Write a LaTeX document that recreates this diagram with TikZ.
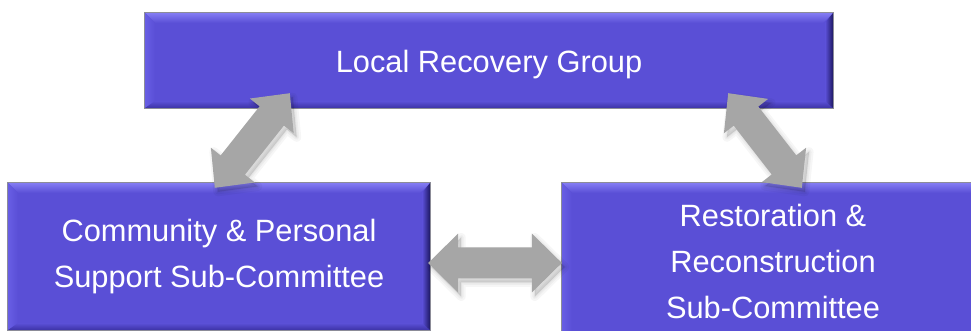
\documentclass[tikz,border=0pt]{standalone}
\usepackage{fontspec}
\setmainfont{Liberation Sans}
\usetikzlibrary{calc}

\definecolor{boxfill}{RGB}{90,79,214}
\definecolor{boxhi}{RGB}{132,124,244}
\definecolor{boxlft}{RGB}{104,94,228}
\definecolor{boxlo}{RGB}{60,50,165}
\definecolor{boxdark}{RGB}{28,22,96}
\definecolor{boxedge}{RGB}{140,140,152}
\definecolor{arrowgray}{RGB}{166,166,166}

\tikzset{
  unitbox/.style={draw=none, fill=boxfill, text=white, align=center,
    inner sep=0pt, font=\fontsize{30.8}{46}\selectfont},
  arrowbody/.style={fill=arrowgray},
  arrowhaze/.style={draw=black, draw opacity=0.035, line width=#1, line join=round},
  arrowcore/.style={fill=black, fill opacity=0.12},
}

% beveled look on the edges of a box node
\newcommand\bevel[1]{%
  \shade[top color=boxhi, bottom color=boxfill]
    (#1.north west) -- (#1.north east) -- ($(#1.north east)+(-10,-10)$)
    -- ($(#1.north west)+(10,-10)$) -- cycle;
  \shade[left color=boxlft, right color=boxfill]
    (#1.north west) -- ($(#1.north west)+(10,-10)$) -- ($(#1.south west)+(10,7)$)
    -- (#1.south west) -- cycle;
  \shade[bottom color=boxlo, top color=boxfill]
    (#1.south west) -- ($(#1.south west)+(10,7)$) -- ($(#1.south east)+(-8,7)$)
    -- (#1.south east) -- cycle;
  \shade[right color=boxdark, left color=boxfill]
    (#1.south east) -- ($(#1.south east)+(-8,7)$) -- ($(#1.north east)+(-8,-10)$)
    -- (#1.north east) -- cycle;
  \draw[boxedge, line width=0.8pt] (#1.south west) rectangle (#1.north east);
}

% block double arrow between two tips:
% #1 style, #2 #3 tips, #4 head length, #5 half head width, #6 half shaft width
\newcommand\fatarrow[6]{%
  \coordinate (fa-p) at ($(#2)!#4!(#3)$);
  \coordinate (fa-q) at ($(#3)!#4!(#2)$);
  \path[#1] (#2) -- ($(fa-p)!#5!90:(#3)$) -- ($(fa-p)!#6!90:(#3)$)
    -- ($(fa-q)!#6!-90:(#2)$) -- ($(fa-q)!#5!-90:(#2)$) -- (#3)
    -- ($(fa-q)!#5!90:(#2)$) -- ($(fa-q)!#6!90:(#2)$)
    -- ($(fa-p)!#6!-90:(#3)$) -- ($(fa-p)!#5!-90:(#3)$) -- cycle;
}
\newcommand\shadedarrow[5]{%
  \begin{scope}[transform canvas={shift={(3pt,-4pt)}}]
    \fatarrow{arrowhaze=9pt}{#1}{#2}{#3}{#4}{#5}
    \fatarrow{arrowhaze=5pt}{#1}{#2}{#3}{#4}{#5}
    \fatarrow{arrowhaze=2pt}{#1}{#2}{#3}{#4}{#5}
    \fatarrow{arrowcore}{#1}{#2}{#3}{#4}{#5}
  \end{scope}
  \fatarrow{arrowbody}{#1}{#2}{#3}{#4}{#5}
}

\begin{document}
\begin{tikzpicture}[x=1pt, y=1pt]
  \useasboundingbox (0,0) rectangle (971,331);
  \clip (0,0) rectangle (971,331);

  % committee boxes
  \node[unitbox, minimum width=688pt, minimum height=95pt] (lrg) at (489,270.5)
    {\rule{0pt}{31pt}Local Recovery Group};
  \node[unitbox, minimum width=422pt, minimum height=147pt] (cps) at (219,74.5)
    {Community \& Personal\\Support Sub-Committee};
  \node[unitbox, minimum width=422pt, minimum height=156pt] (rrs) at (773,70)
    {Restoration \&\\Reconstruction\\Sub-Committee};
  \bevel{lrg}
  \bevel{cps}
  \bevel{rrs}

  % arrow tips
  \coordinate (la-lo) at ($(cps.north west)+(207,-5)$);
  \coordinate (la-hi) at ($(lrg.south west)+(145,15)$);
  \coordinate (ra-hi) at ($(lrg.south east)+(-105,15)$);
  \coordinate (ra-lo) at ($(rrs.north west)+(240,-5)$);
  \coordinate (ha-l) at ($(cps.east)+(-2,-6.5)$);
  \coordinate (ha-r) at ($(rrs.west)+(0,-2)$);

  % two-way links
  \shadedarrow{la-lo}{la-hi}{29pt}{28pt}{15.5pt}
  \shadedarrow{ra-hi}{ra-lo}{29pt}{28pt}{15.5pt}
  \shadedarrow{ha-l}{ha-r}{30pt}{29.5pt}{15.5pt}
\end{tikzpicture}
\end{document}
